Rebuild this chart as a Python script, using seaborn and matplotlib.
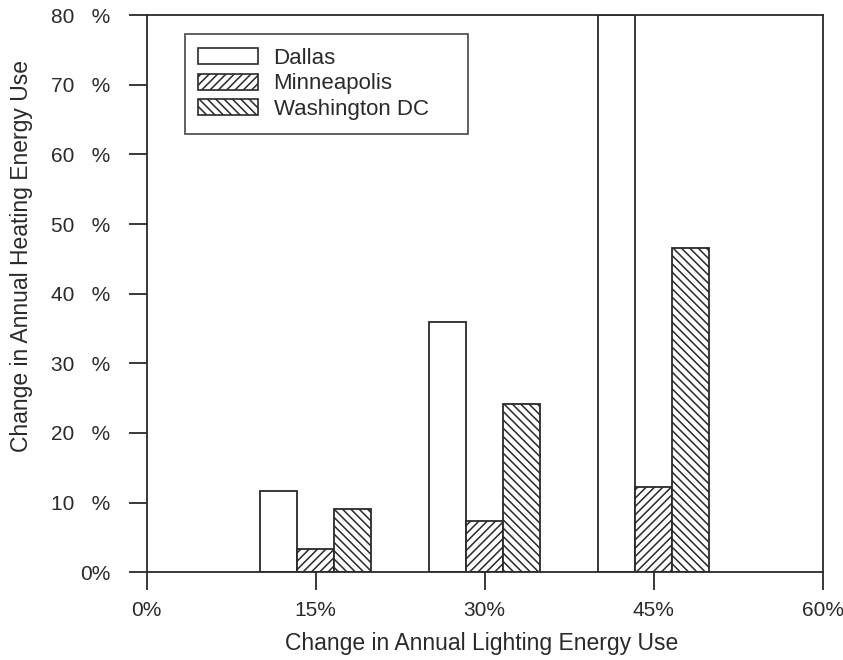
import matplotlib
matplotlib.use("Agg")
import matplotlib.pyplot as plt
import seaborn as sns
import pandas as pd
from matplotlib.patches import Patch
from matplotlib.ticker import FixedLocator

# Data
lighting_change = [15, 30, 45]
cities = ["Dallas", "Minneapolis", "Washington DC"]
dallas = [11.6, 36.0, 80.0]
minneapolis = [3.3, 7.4, 12.2]
washington = [9.1, 24.1, 46.5]
x_ticks = [0, 15, 30, 45, 60]
x_tick_labels = ["0%", "15%", "30%", "45%", "60%"]
y_ticks = [0, 10, 20, 30, 40, 50, 60, 70, 80]
y_tick_labels = ["0%", "10   %", "20   %", "30   %", "40   %", "50   %", "60   %", "70   %", "80   %"]
hatches = ["", "////", "\\\\\\\\"]

df = pd.DataFrame({
    "lighting": lighting_change * 3,
    "city": [c for c in cities for _ in lighting_change],
    "heating": dallas + minneapolis + washington,
})

sns.set_style("white")
plt.rcParams["font.family"] = ["Liberation Sans", "DejaVu Sans"]
plt.rcParams["hatch.linewidth"] = 1.1
plt.rcParams["hatch.color"] = "#222222"

ink = "#2a2a2a"

fig = plt.figure(figsize=(8.43, 6.6), dpi=100)
ax = fig.add_axes([0.174, 0.133, 0.802, 0.844])

sns.barplot(data=df, x="lighting", y="heating", hue="city", hue_order=cities,
            native_scale=True, width=0.657, palette=["white"] * 3,
            edgecolor=ink, linewidth=1.3, legend=False, ax=ax, errorbar=None)

for cont, h in zip(ax.containers, hatches):
    for bar in cont:
        bar.set_hatch(h)
        bar.set_edgecolor(ink)
        bar.set_facecolor("white")

ax.set_xlim(0, 60)
ax.set_ylim(0, 80)
ax.xaxis.set_major_locator(FixedLocator(x_ticks))
ax.set_xticklabels(x_tick_labels)
ax.yaxis.set_major_locator(FixedLocator(y_ticks))
ax.set_yticklabels(y_tick_labels)
ax.tick_params(axis="both", which="major", direction="out", length=13, width=1.3,
               labelsize=15, colors=ink, bottom=True, left=True)
ax.tick_params(axis="y", pad=13)
ax.tick_params(axis="x", pad=7.5)
for s in ax.spines.values():
    s.set_linewidth(1.3)
    s.set_color(ink)

ax.set_xlabel("Change in Annual Lighting Energy Use", fontsize=16.5, color=ink)
ax.set_ylabel("Change in Annual Heating Energy Use", fontsize=16.5, color=ink)
ax.xaxis.set_label_coords(0.495, -0.108)
ax.yaxis.set_label_coords(-0.168, 0.567)

handles = [Patch(facecolor="white", edgecolor=ink, hatch=h, linewidth=1.2, label=c)
           for c, h in zip(cities, hatches)]
leg = ax.legend(handles=handles, loc="upper left",
                bbox_to_anchor=(0.0562, 0.7899, 0.4187, 0.176), mode="expand",
                fontsize=16, frameon=True, fancybox=False, edgecolor=ink,
                handlelength=2.7, handleheight=0.72, handletextpad=0.68,
                labelspacing=0.2, borderpad=0.62, borderaxespad=0)
leg.get_frame().set_linewidth(1.3)
for t in leg.get_texts():
    t.set_color(ink)

fig.savefig("out.png", dpi=100)
